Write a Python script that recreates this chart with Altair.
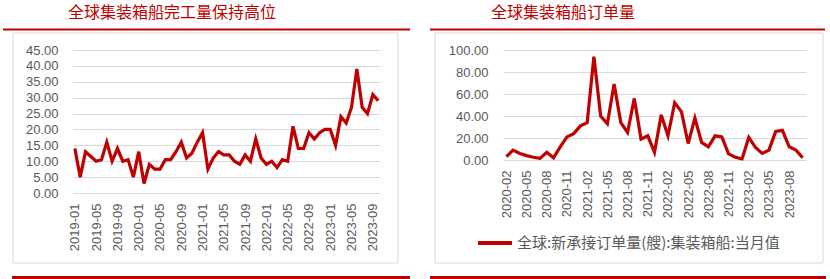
import altair as alt
import pandas as pd


def month_labels(start_year, start_month, n):
    out = []
    y, m = start_year, start_month
    for _ in range(n):
        out.append(f"{y}-{m:02d}")
        m += 1
        if m > 12:
            m = 1
            y += 1
    return out


# ---- data ----
left_months = month_labels(2019, 1, 58)
left_values = [14, 5, 13, 11.5, 10, 10.5, 16, 10, 14, 10, 10.5, 5,
               13, 3, 9, 7.5, 7.5, 10.5, 10.5, 13, 16, 11, 12.5, 16,
               19, 7.5, 11, 13, 12, 12, 10, 9, 12, 10, 17, 11,
               9, 10, 8, 10.5, 10, 21, 14, 14, 19, 17, 19, 20,
               20, 15, 24, 22, 27, 39, 27, 25, 31, 29]
left_ticks = left_months[::4]
left_yticks = [0, 5, 10, 15, 20, 25, 30, 35, 40, 45]

right_months = month_labels(2020, 2, 45)
right_values = [3, 9, 6, 4, 2.5, 1.5, 7, 2, 12, 21, 24,
                31, 34, 94, 40, 33, 69, 34, 25, 56, 19, 22, 7,
                41, 22, 52, 44, 15, 38, 16, 12, 22, 21, 5.5, 2.5,
                1, 20.5, 11.5, 6, 9, 26, 27, 12, 9, 2]
right_ticks = right_months[::3]
right_yticks = [0, 20, 40, 60, 80, 100]

left_title = "全球集装箱船完工量保持高位"
right_title = "全球集装箱船订单量"
legend_label = "全球:新承接订单量(艘):集装箱船:当月值"

RED = "#C00000"
GRAY = "#595959"
GRID = "#d9d9d9"
CJK = "Noto Sans CJK SC"

dfL = pd.DataFrame({"month": left_months, "value": left_values})
dfR = pd.DataFrame({"month": right_months, "value": right_values})
one = alt.Data(values=[{"k": 1}])


def line_chart(df, months, ticks, yticks, ydom, pad, width, height):
    return alt.Chart(df).mark_line(color=RED, strokeWidth=3.2).encode(
        x=alt.X("month:O", sort=months, title=None,
                scale=alt.Scale(type="point", padding=pad),
                axis=alt.Axis(values=ticks, labelAngle=-90, grid=False,
                              labelPadding=10)),
        y=alt.Y("value:Q", title=None,
                scale=alt.Scale(domain=ydom, nice=False, zero=True),
                axis=alt.Axis(values=yticks, format=".2f", grid=True,
                              labelPadding=15)),
    ).properties(width=width, height=height)


def hrule(x1, x2, y, width):
    return alt.Chart(one).mark_rule(color=RED, strokeWidth=width).encode(
        x=alt.value(x1), x2=alt.value(x2), y=alt.value(y))


def box(x1, x2, y1, y2):
    return alt.Chart(one).mark_rect(fillOpacity=0, stroke=GRID, strokeWidth=1).encode(
        x=alt.value(x1), x2=alt.value(x2), y=alt.value(y1), y2=alt.value(y2))


def bounds(x1, x2, y1, y2):
    return alt.Chart(one).mark_rect(opacity=0).encode(
        x=alt.value(x1), x2=alt.value(x2), y=alt.value(y1), y2=alt.value(y2))


def label(text, x, y, size, color, align="center"):
    return alt.Chart(one).mark_text(text=text, font=CJK, fontSize=size, color=color,
                                    align=align, baseline="middle").encode(
        x=alt.value(x), y=alt.value(y))


# Left panel: plot area at (73, 50), 307 x 143
left = alt.layer(
    bounds(-73, 342, -50, 229),
    box(-60, 325, -17, 213),
    hrule(-70, 337, -20.5, 2),
    hrule(-61, 337, 227.5, 3),
    label(left_title, 99, -37.5, 16, RED),
    line_chart(dfL, left_months, left_ticks, left_yticks, [0, 45], 0.35, 307, 143),
)

# Right panel: plot area at (503, 50), 303 x 110
right = alt.layer(
    bounds(-88, 327, -50, 229),
    box(-68, 320, -17, 213),
    hrule(-73, 322, -20.5, 2),
    hrule(-73, 323, 227.5, 3),
    label(right_title, 60, -37.5, 16, RED),
    alt.Chart(one).mark_rule(color=RED, strokeWidth=4).encode(
        x=alt.value(-25), x2=alt.value(9), y=alt.value(193)),
    label(legend_label, 14, 193, 15, GRAY, align="left"),
    line_chart(dfR, right_months, right_ticks, right_yticks, [0, 100], 0.5, 303, 110),
)

chart = alt.hconcat(left, right, spacing=0).properties(
    padding=0, background="white"
).configure_view(strokeWidth=0).configure_axis(
    labelFont="Liberation Sans", labelFontSize=13, labelColor=GRAY,
    domain=False, ticks=False, gridColor=GRID, gridWidth=1
)

chart.save("out.html", embed_options={"renderer": "svg", "actions": False})
